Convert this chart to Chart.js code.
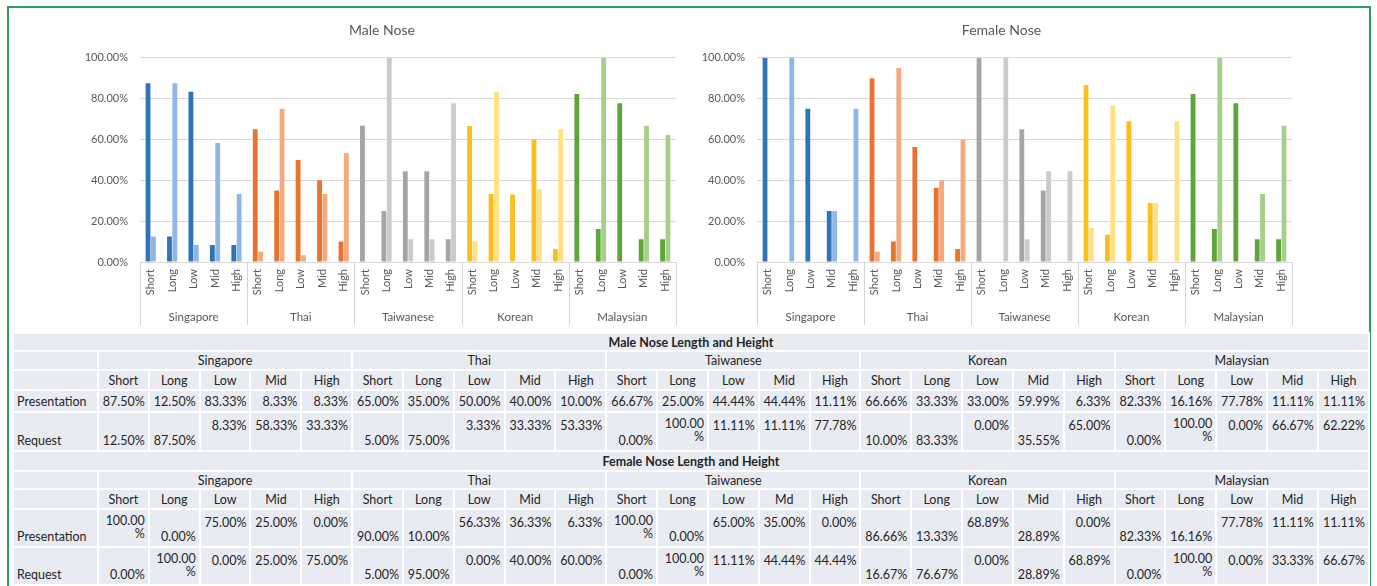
<!DOCTYPE html>
<html>
<head>
<meta charset="utf-8">
<title>Nose Length and Height</title>
<script src="https://cdn.jsdelivr.net/npm/chart.js@4/dist/chart.umd.min.js"></script>
<style>
  html, body { margin: 0; padding: 0; background: #ffffff; }
  body { width: 1377px; height: 586px; position: relative; overflow: hidden; font-family: Lato, "Open Sans", sans-serif; }
  .frame { position: absolute; left: 7px; top: 6px; width: 1364px; height: 600px; border: 2px solid #2f9c60; box-sizing: border-box; }
  canvas { position: absolute; }
  #maleChart { left: 70px; top: 12px; }
  #femaleChart { left: 688px; top: 12px; }
  table.data { position: absolute; left: 12px; top: 332px; width: 1356px; border-collapse: collapse; table-layout: fixed;
    font-size: 12.5px; color: #262626; background: #e8ebf1; }
  table.data td { border: 2px solid #ffffff; padding: 0 3px; white-space: nowrap; line-height: 13px; overflow: visible; }
  table.data td.num { text-align: right; }
  table.data td.top { vertical-align: top; padding-top: 6px; }
  table.data td.wrap { vertical-align: top; padding-top: 4px; }
  table.data td.bot { vertical-align: bottom; padding-bottom: 3px; }
  table.data td.mid { vertical-align: middle; }
  table.data td.ctr { text-align: center; }
  table.data td.lbl { text-align: left; }
  table.data td.title { text-align: center; font-weight: bold; }
</style>
</head>
<body>
<div class="frame"></div>
<canvas id="maleChart" width="625" height="322"></canvas>
<canvas id="femaleChart" width="626" height="322"></canvas>
<table class="data" id="noseTable"></table>
<script>
// Groups and sub-categories along the x axis
const countries = ['Singapore', 'Thai', 'Taiwanese', 'Korean', 'Malaysian'];
const traits = ['Short', 'Long', 'Low', 'Mid', 'High'];

// Column headers printed in the table (the female Taiwanese block reads "Md")
const maleHeaders = [traits, traits, traits, traits, traits];
const femaleHeaders = [traits, traits, ['Short', 'Long', 'Low', 'Md', 'High'], traits, traits];

// Percentages per country, in order Short, Long, Low, Mid, High
const malePresentation = [87.5, 12.5, 83.33, 8.33, 8.33, 65, 35, 50, 40, 10, 66.67, 25, 44.44, 44.44, 11.11, 66.66, 33.33, 33, 59.99, 6.33, 82.33, 16.16, 77.78, 11.11, 11.11];
const maleRequest = [12.5, 87.5, 8.33, 58.33, 33.33, 5, 75, 3.33, 33.33, 53.33, 0, 100, 11.11, 11.11, 77.78, 10, 83.33, 0, 35.55, 65, 0, 100, 0, 66.67, 62.22];
const femalePresentation = [100, 0, 75, 25, 0, 90, 10, 56.33, 36.33, 6.33, 100, 0, 65, 35, 0, 86.66, 13.33, 68.89, 28.89, 0, 82.33, 16.16, 77.78, 11.11, 11.11];
const femaleRequest = [0, 100, 0, 25, 75, 5, 95, 0, 40, 60, 0, 100, 11.11, 44.44, 44.44, 16.67, 76.67, 0, 28.89, 68.89, 0, 100, 0, 33.33, 66.67];

// Value axis ticks
const yTickMin = 0;
const yTickMax = 100;
const yTickStep = 20;

// One colour family per country: darker for Presentation, lighter for Request
const presentationColors = ['#2f74b5', '#eb7330', '#a5a5a5', '#fdbd1c', '#5ea53c'];
const requestColors = ['#8fb6e4', '#f4aa7f', '#cbcbcb', '#ffe083', '#a6cf8a'];

const subLabels = countries.flatMap(() => traits);
const perBar = (palette) => countries.flatMap((c, i) => traits.map(() => palette[i]));

Chart.defaults.font.family = 'Lato, "Open Sans", sans-serif';
Chart.defaults.color = '#595959';

// Vertical lines that box each country group below the axis
const groupSeparators = {
  id: 'groupSeparators',
  afterLayout(chart) {
    // the value-axis labels overhang into the layout padding; keep them unclipped
    chart.scales.y.left = 0;
  },
  afterDraw(chart) {
    const { ctx, chartArea, scales } = chart;
    const x2 = scales.x2;
    const bottom = x2.bottom - 7;
    ctx.save();
    ctx.strokeStyle = '#d4d4d4';
    ctx.lineWidth = 1;
    for (let g = 0; g <= countries.length; g++) {
      const px = Math.round(x2.getPixelForValue(g - 0.5)) + 0.5;
      ctx.beginPath();
      ctx.moveTo(px, chartArea.bottom);
      ctx.lineTo(px, bottom);
      ctx.stroke();
    }
    ctx.restore();
  }
};

function makeChart(id, titleText, presentation, request, pad, axisWidth) {
  return new Chart(document.getElementById(id), {
    type: 'bar',
    data: {
      labels: subLabels,
      datasets: [
        { label: 'Presentation', data: presentation, backgroundColor: perBar(presentationColors), categoryPercentage: 0.5, barPercentage: 0.9 },
        { label: 'Request', data: request, backgroundColor: perBar(requestColors), categoryPercentage: 0.5, barPercentage: 0.9 }
      ]
    },
    options: {
      responsive: false,
      animation: false,
      devicePixelRatio: 1,
      layout: { padding: pad },
      plugins: {
        legend: { display: false },
        tooltip: { enabled: false },
        title: {
          display: true, text: titleText, color: '#595959',
          font: { size: 14, weight: 'normal' },
          padding: { top: 10, bottom: 19 }
        }
      },
      scales: {
        y: {
          min: yTickMin, max: yTickMax,
          ticks: { stepSize: yTickStep, callback: (v) => v.toFixed(2) + '%', font: { size: 11 }, color: '#595959', padding: 12 },
          grid: { color: '#d9d9d9', drawTicks: false, tickLength: 0 },
          border: { display: false },
          afterFit: (scale) => { scale.width = axisWidth; }
        },
        x: {
          weight: 0,
          ticks: { minRotation: 90, maxRotation: 90, autoSkip: false, font: { size: 11 }, color: '#595959', padding: 7 },
          grid: { display: false, drawTicks: false },
          border: { display: false }
        },
        x2: {
          type: 'category', position: 'bottom', weight: 1, offset: true,
          labels: countries,
          ticks: { font: { size: 11.5 }, color: '#595959', padding: 8 },
          grid: { display: false, drawTicks: false },
          border: { display: false }
        }
      }
    },
    plugins: [groupSeparators]
  });
}

makeChart('maleChart', 'Male Nose', malePresentation, maleRequest, { left: 18, right: 19, top: 0, bottom: 2 }, 52);
makeChart('femaleChart', 'Female Nose', femalePresentation, femaleRequest, { left: 23, right: 22, top: 0, bottom: 2 }, 46);

// Table of the same percentages
const fmt = (v) => {
  const s = v.toFixed(2) + '%';
  return s.length > 6 ? s.slice(0, -1) + '<br>%' : s;
};
const vAlign = (v, ci, ti) => {
  if (v >= 100) return 'wrap';
  if (ti < 2) return 'bot';
  if (countries[ci] === 'Korean' && ti === 3) return 'bot';
  return 'top';
};

function section(title, headers, presentation, request, rowHeights) {
  let html = '';
  html += `<tr style="height:${rowHeights[0]}px"><td class="title mid" colspan="26">${title}</td></tr>`;
  html += `<tr style="height:${rowHeights[1]}px"><td></td>` + countries.map(c => `<td class="ctr mid" colspan="5">${c}</td>`).join('') + '</tr>';
  html += `<tr style="height:${rowHeights[2]}px"><td></td>` + headers.map(h => h.map(t => `<td class="ctr mid">${t}</td>`).join('')).join('') + '</tr>';
  const row = (name, vals, h, single) => {
    let r = `<tr style="height:${h}px"><td class="lbl ${single ? 'mid' : 'bot'}">${name}</td>`;
    vals.forEach((v, i) => {
      const ci = Math.floor(i / traits.length), ti = i % traits.length;
      r += `<td class="num ${single ? 'mid' : vAlign(v, ci, ti)}">${fmt(v)}</td>`;
    });
    return r + '</tr>';
  };
  const singleLine = presentation.every(v => v < 100);
  html += row('Presentation', presentation, rowHeights[3], singleLine);
  html += row('Request', request, rowHeights[4], false);
  return html;
}

const table = document.getElementById('noseTable');
let cols = '<colgroup><col style="width:85px">';
for (let i = 0; i < 25; i++) cols += '<col style="width:50.84px">';
cols += '</colgroup>';
table.innerHTML = cols +
  section('Male Nose Length and Height', maleHeaders, malePresentation, maleRequest, [18, 19, 20, 22, 39]) +
  section('Female Nose Length and Height', femaleHeaders, femalePresentation, femaleRequest, [20, 18, 20, 38, 38]);
</script>
</body>
</html>
